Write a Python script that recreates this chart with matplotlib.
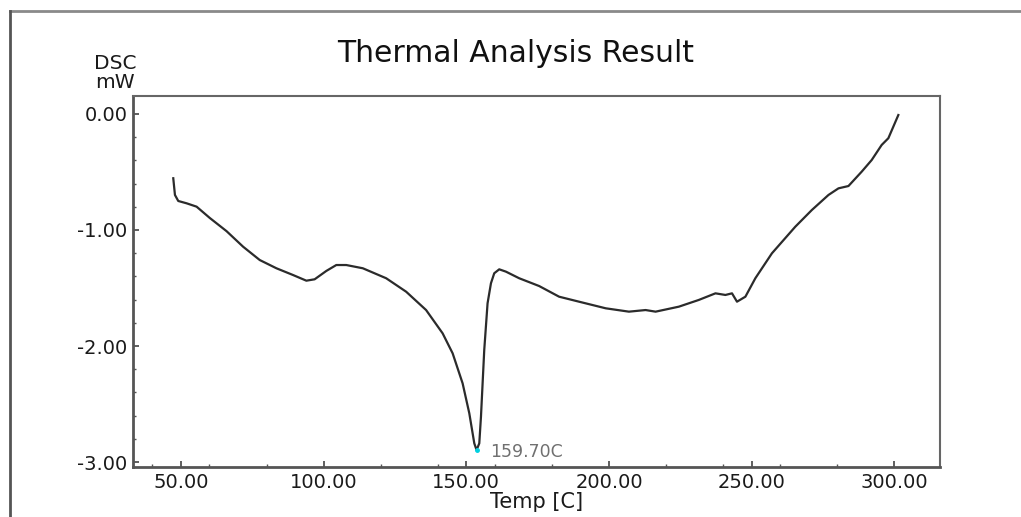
import matplotlib
matplotlib.use("Agg")
import matplotlib.pyplot as plt
from matplotlib.ticker import MultipleLocator, FormatStrFormatter
from matplotlib.lines import Line2D

temp = [47.31, 47.90, 49.06, 51.99, 55.49, 60.14, 65.98, 71.78, 77.62, 83.46,
        89.27, 93.95, 96.85, 100.94, 104.44, 107.94, 113.74, 121.92, 128.92, 135.91,
        141.71, 145.21, 148.71, 151.05, 152.80, 153.60, 154.55, 155.14, 156.29, 157.45,
        158.64, 159.79, 161.54, 163.88, 168.53, 175.52, 182.52, 189.51, 198.85, 206.99,
        212.83, 216.33, 224.48, 231.47, 237.31, 240.80, 243.11, 244.86, 247.80, 251.29,
        257.10, 265.28, 271.08, 276.92, 280.42, 283.92, 288.57, 292.06, 295.56, 297.90,
        299.65, 301.40]
dsc = [-0.554, -0.698, -0.750, -0.770, -0.799, -0.897, -1.010, -1.144, -1.259, -1.330,
       -1.388, -1.437, -1.425, -1.353, -1.302, -1.302, -1.330, -1.416, -1.532, -1.690,
       -1.891, -2.063, -2.322, -2.580, -2.839, -2.897, -2.839, -2.609, -2.034, -1.632,
       -1.459, -1.373, -1.339, -1.359, -1.416, -1.483, -1.575, -1.618, -1.675, -1.704,
       -1.690, -1.704, -1.661, -1.603, -1.546, -1.560, -1.546, -1.618, -1.575, -1.416,
       -1.201, -0.972, -0.828, -0.698, -0.641, -0.621, -0.497, -0.397, -0.267, -0.209,
       -0.109, -0.009]
peak_x = 153.60
peak_y = -2.897
peak_label = "159.70C"

title = "Thermal Analysis Result"
xlabel = "Temp [C]"
ylabel = "DSC\nmW"

W, H = 1021, 517
fig = plt.figure(figsize=(W / 100, H / 100), dpi=100)
fig.patch.set_facecolor("white")

# outer border (top and left)
fig.add_artist(Line2D([10 / W, 1.0], [1 - 11 / H, 1 - 11 / H], transform=fig.transFigure,
                      color="#8a8a8a", lw=2))
fig.add_artist(Line2D([10 / W, 10 / W], [0.0, 1 - 11 / H], transform=fig.transFigure,
                      color="#555555", lw=2))

ax = fig.add_axes([133 / W, (H - 467) / H, (940 - 133) / W, (467 - 96) / H])
ax.plot(temp, dsc, color="#2b2b2b", lw=1.6)
ax.plot([peak_x], [peak_y], marker="o", ms=2.5, color="#00d0e0", ls="none")
ax.text(peak_x + 4.8, peak_y - 0.02, peak_label, fontsize=12.5, color="#707070",
        va="center", ha="left")

ax.set_xlim(33.2, 316.0)
ax.set_ylim(-3.043, 0.155)
ax.xaxis.set_major_locator(MultipleLocator(50))
ax.xaxis.set_minor_locator(MultipleLocator(20))
ax.yaxis.set_major_locator(MultipleLocator(1))
ax.yaxis.set_minor_locator(MultipleLocator(0.2))
ax.xaxis.set_major_formatter(FormatStrFormatter("%.2f"))
ax.yaxis.set_major_formatter(FormatStrFormatter("%.2f"))

for side in ["left", "bottom"]:
    ax.spines[side].set_linewidth(2)
    ax.spines[side].set_color("#555555")
for side in ["right", "top"]:
    ax.spines[side].set_linewidth(1.5)
    ax.spines[side].set_color("#666666")

ax.tick_params(which="major", direction="in", length=4, width=1.2, color="#444444",
               labelsize=14, labelcolor="#1a1a1a", pad=4)
ax.tick_params(which="minor", direction="in", length=2.5, width=1.0, color="#555555")

ax.set_xlabel(xlabel, fontsize=15, color="#1a1a1a", labelpad=0)
fig.text(115 / W, 1 - 73 / H, ylabel, fontsize=14.5, color="#1a1a1a", ha="center",
         va="center", linespacing=0.95)
fig.text(516 / W, 1 - 53 / H, title, fontsize=21.5, color="#111111", ha="center",
         va="center")

fig.savefig("out.png", dpi=100)
